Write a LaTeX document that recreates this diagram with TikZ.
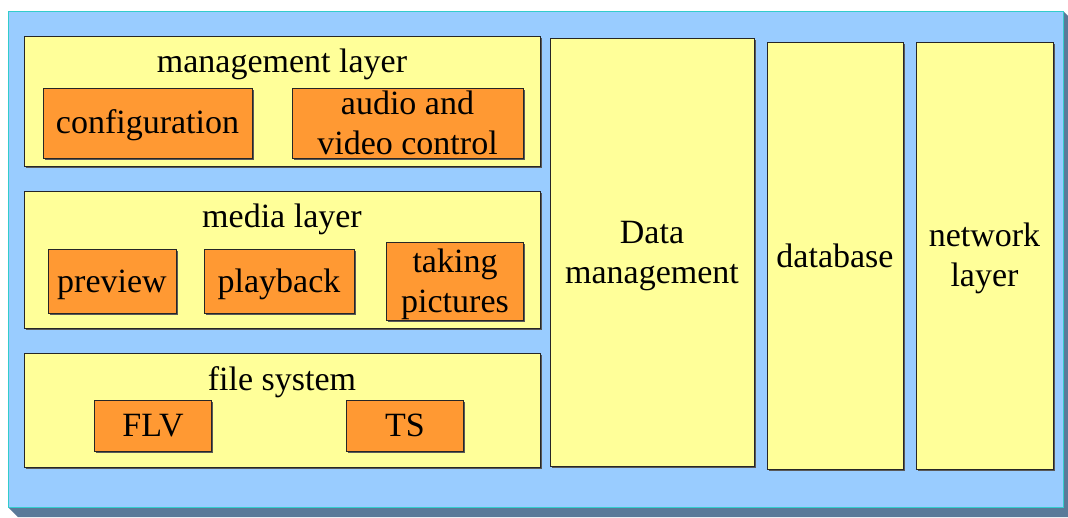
\documentclass[tikz,border=0pt]{standalone}
\usepackage{fontspec}
\setmainfont{Liberation Serif}
\usepackage{tikz}
\usetikzlibrary{shapes, shadows, positioning}
\definecolor{sky}{RGB}{153,204,255}
\definecolor{skyedge}{RGB}{51,204,204}
\definecolor{skyside}{RGB}{90,122,153}
\definecolor{paleyellow}{RGB}{255,255,153}
\definecolor{paleorange}{RGB}{255,153,51}
\newcommand{\tallline}[1]{\rule{0pt}{#1}}
\tikzstyle{box}    = [draw=black!85, line width=1pt, rectangle, inner sep=0pt, align=center,
                      drop shadow={shadow xshift=1.5pt, shadow yshift=-1.5pt, fill=black!65, opacity=1}]
\tikzstyle{layer}  = [box, fill=paleyellow]
\tikzstyle{module} = [box, fill=paleorange]
\tikzstyle{title}  = [anchor=base, inner sep=0pt]
\tikzset{topstrut/.style = {execute at begin node={\rule{0pt}{#1}}}}

\begin{document}
\begin{tikzpicture}[x=1pt, y=-1pt, font=\fontsize{34}{40}\selectfont]

\useasboundingbox (0,0) rectangle (1068,517);

% base plate
\fill [skyside] (8,507) -- (18,517) -- (1068,517) -- (1068,16) -- (1063,11) -- cycle;
\draw [skyedge, fill=sky, line width=1pt] (8,11) rectangle (1063,507);

% layers
\node [layer, minimum width=516pt, minimum height=130pt] at (282  , 101  ) (mgmt)  {};
\node [layer, minimum width=516pt, minimum height=137pt] at (282  , 259.5) (media) {};
\node [layer, minimum width=516pt, minimum height=114pt] at (282  , 410  ) (files) {};
\node [layer, minimum width=204pt, minimum height=428pt] at (652  , 252  ) (data)  {\tallline{30.5pt}Data\\management};
\node [layer, minimum width=136pt, minimum height=427pt] at (835  , 255.5) (db)    {database};
\node [layer, minimum width=137pt, minimum height=427pt] at (984.5, 255.5) (net)   {\tallline{30pt}network\\layer};

% titles
\node [title] at (282, 72 ) (mgmttitle)  {management layer};
\node [title] at (282, 227) (mediatitle) {media layer};
\node [title] at (282, 390) (filestitle) {file system};

% modules
\node [module, minimum width=209pt, minimum height=70pt, topstrut=27.5pt] at (147.5, 123  ) (config)  {configuration};
\node [module, minimum width=231pt, minimum height=70pt]                  at (407.5, 123  ) (avctrl)  {audio and\\video control};
\node [module, minimum width=128pt, minimum height=64pt, topstrut=29pt]   at (112  , 281.5) (preview) {preview};
\node [module, minimum width=150pt, minimum height=64pt, topstrut=29pt]   at (279  , 281.5) (play)    {playback};
\node [module, minimum width=137pt, minimum height=78pt]                  at (455  , 281.5) (photo)   {\tallline{29pt}taking\\pictures};
\node [module, minimum width=117pt, minimum height=51pt]                  at (153  , 425.5) (flv)     {FLV};
\node [module, minimum width=117pt, minimum height=51pt]                  at (405  , 425.5) (ts)      {TS};

\end{tikzpicture}
\end{document}
